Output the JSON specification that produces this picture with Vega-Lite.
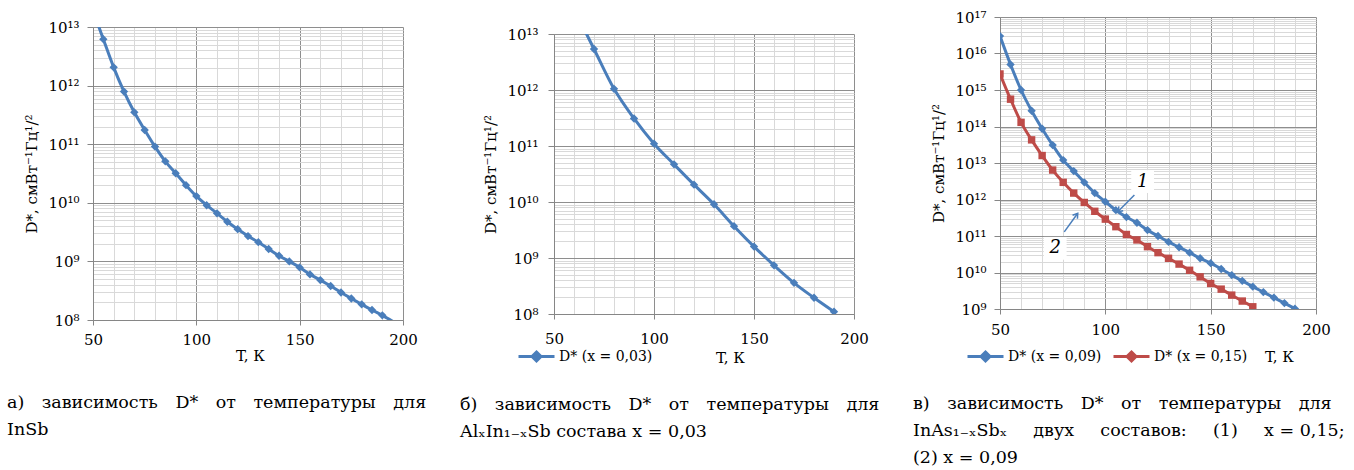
{
  "$schema": "https://vega.github.io/schema/vega-lite/v6.json",
  "background": "white",
  "padding": {"left": 7, "top": 0, "right": 0, "bottom": 0},
  "spacing": 33,
  "resolve": {"scale": {"color": "independent"}, "legend": {"color": "independent"}},
  "config": {
    "view": {"stroke": null},
    "font": "DejaVu Serif",
    "axis": {
      "labelFont": "DejaVu Serif", "labelFontSize": 15, "labelColor": "#000000",
      "titleFont": "DejaVu Serif", "titleFontSize": 15, "titleFontWeight": "normal", "titleColor": "#000000",
      "domainColor": "#868686", "tickColor": "#868686", "grid": true, "gridWidth": 1,
      "labelFlush": false, "labelOverlap": false, "labelBound": false
    },
    "title": {"font": "DejaVu Serif", "fontSize": 17.5, "fontWeight": "normal", "color": "#000000", "lineHeight": 27, "anchor": "start", "frame": "group", "orient": "bottom", "align": "left"},
    "legend": {"labelFont": "DejaVu Serif", "labelFontSize": 14, "labelColor": "#000000", "orient": "none", "direction": "horizontal", "padding": 0, "columnPadding": 5, "labelOffset": 3, "symbolSize": 1296, "symbolStrokeWidth": 3, "symbolType": "M-1,0H1M0,-0.25L0.25,0L0,0.25L-0.25,0Z", "title": null}
  },
  "hconcat": [
    {
      "vconcat": [
        {"width": 10, "height": 20, "data": {"values": [{}]}, "mark": {"type": "point", "opacity": 0}},
        {
          "width": 310, "height": 293,
          "title": {"text": ["а)\u2003зависимость\u2003D*\u2003от\u2003температуры\u2003для", "InSb"], "dx": -86, "offset": 31},
          "data": {"values": [
            {"T": 50, "D": 1.9e13}, {"T": 55, "D": 6.2e12}, {"T": 60, "D": 2.05e12}, {"T": 65, "D": 7.9e11},
            {"T": 70, "D": 3.5e11}, {"T": 75, "D": 1.75e11}, {"T": 80, "D": 9.1e10}, {"T": 85, "D": 5.1e10},
            {"T": 90, "D": 3.2e10}, {"T": 95, "D": 2.0e10}, {"T": 100, "D": 1.3e10}, {"T": 105, "D": 9.1e9},
            {"T": 110, "D": 6.6e9}, {"T": 115, "D": 4.75e9}, {"T": 120, "D": 3.55e9}, {"T": 125, "D": 2.7e9},
            {"T": 130, "D": 2.13e9}, {"T": 135, "D": 1.63e9}, {"T": 140, "D": 1.25e9}, {"T": 145, "D": 1.0e9},
            {"T": 150, "D": 7.9e8}, {"T": 155, "D": 6.0e8}, {"T": 160, "D": 4.8e8}, {"T": 165, "D": 3.8e8},
            {"T": 170, "D": 2.95e8}, {"T": 175, "D": 2.33e8}, {"T": 180, "D": 1.85e8}, {"T": 185, "D": 1.48e8},
            {"T": 190, "D": 1.2e8}, {"T": 195, "D": 9.5e7}
          ]},
          "encoding": {
            "x": {"field": "T", "type": "quantitative",
              "scale": {"domain": [50, 200], "nice": false, "zero": false},
              "axis": {"title": "T, К", "values": [50,60,70,80,90,100,110,120,130,140,150,160,170,180,190,200],
                "labelExpr": "datum.value % 50 == 0 ? datum.label : ''",
                "gridColor": {"condition": {"test": "datum.value % 50 == 0", "value": "#8e8e8e"}, "value": "#d9d9d9"},
                "tickOpacity": {"condition": {"test": "datum.value % 50 == 0", "value": 1}, "value": 0},
                "tickSize": 5, "labelPadding": 7, "titleX": 157, "titleY": 35, "titleBaseline": "middle"}},
            "y": {"field": "D", "type": "quantitative",
              "scale": {"type": "log", "domain": [1e8, 1e13], "nice": false},
              "axis": {"title": "D*, смВт⁻¹Гц¹/²",
                "values": [1e8,2e8,3e8,4e8,5e8,6e8,7e8,8e8,9e8,1e9,2e9,3e9,4e9,5e9,6e9,7e9,8e9,9e9,1e10,2e10,3e10,4e10,5e10,6e10,7e10,8e10,9e10,1e11,2e11,3e11,4e11,5e11,6e11,7e11,8e11,9e11,1e12,2e12,3e12,4e12,5e12,6e12,7e12,8e12,9e12,1e13],
                "labelExpr": "abs(log(datum.value)/LN10 - round(log(datum.value)/LN10)) < 0.000001 ? '10' + (round(log(datum.value)/LN10) >= 10 ? '¹' : '') + substring('⁰¹²³⁴⁵⁶⁷⁸⁹', round(log(datum.value)/LN10) % 10, round(log(datum.value)/LN10) % 10 + 1) : ''",
                "gridColor": {"condition": {"test": "abs(log(datum.value)/LN10 - round(log(datum.value)/LN10)) < 0.000001", "value": "#8e8e8e"}, "value": "#d9d9d9"},
                "tickOpacity": {"condition": {"test": "abs(log(datum.value)/LN10 - round(log(datum.value)/LN10)) < 0.000001", "value": 1}, "value": 0},
                "tickSize": 6, "labelPadding": 8, "titlePadding": 8}}
          },
          "layer": [
            {"mark": {"type": "line", "color": "#4A7EBB", "strokeWidth": 3, "clip": true, "interpolate": "monotone"}},
            {"transform": [{"filter": "datum.T >= 55 && datum.T <= 190"}],
             "mark": {"type": "point", "shape": "diamond", "filled": true, "opacity": 1, "color": "#4A7EBB", "size": 70, "clip": true}}
          ]
        }
      ],
      "spacing": 0
    },
    {
      "vconcat": [
        {"width": 10, "height": 27, "data": {"values": [{}]}, "mark": {"type": "point", "opacity": 0}},
        {
          "width": 300, "height": 280,
          "title": {"text": ["б)\u2003зависимость\u2003D*\u2003от\u2003температуры\u2003для", "AlₓIn₁₋ₓSb состава x = 0,03"], "dx": -94, "offset": 31},
          "data": {"values": [
            {"T": 60, "D": 2.8e13, "sb": "D* (x = 0,03)"}, {"T": 70, "D": 5.4e12, "sb": "D* (x = 0,03)"},
            {"T": 80, "D": 1.05e12, "sb": "D* (x = 0,03)"}, {"T": 90, "D": 3.1e11, "sb": "D* (x = 0,03)"},
            {"T": 100, "D": 1.1e11, "sb": "D* (x = 0,03)"}, {"T": 110, "D": 4.7e10, "sb": "D* (x = 0,03)"},
            {"T": 120, "D": 2.04e10, "sb": "D* (x = 0,03)"}, {"T": 130, "D": 9.1e9, "sb": "D* (x = 0,03)"},
            {"T": 140, "D": 3.7e9, "sb": "D* (x = 0,03)"}, {"T": 150, "D": 1.6e9, "sb": "D* (x = 0,03)"},
            {"T": 160, "D": 7.4e8, "sb": "D* (x = 0,03)"}, {"T": 170, "D": 3.6e8, "sb": "D* (x = 0,03)"},
            {"T": 180, "D": 1.95e8, "sb": "D* (x = 0,03)"}, {"T": 190, "D": 1.1e8, "sb": "D* (x = 0,03)"}
          ]},
          "encoding": {
            "x": {"field": "T", "type": "quantitative",
              "scale": {"domain": [50, 200], "nice": false, "zero": false},
              "axis": {"title": "T, К", "values": [50,60,70,80,90,100,110,120,130,140,150,160,170,180,190,200],
                "labelExpr": "datum.value % 50 == 0 ? datum.label : ''",
                "gridColor": {"condition": {"test": "datum.value % 50 == 0", "value": "#8e8e8e"}, "value": "#d9d9d9"},
                "tickOpacity": {"condition": {"test": "datum.value % 50 == 0", "value": 1}, "value": 0},
                "tickSize": 5, "labelPadding": 12, "titleX": 176, "titleY": 43, "titleBaseline": "middle"}},
            "y": {"field": "D", "type": "quantitative",
              "scale": {"type": "log", "domain": [1e8, 1e13], "nice": false},
              "axis": {"title": "D*, смВт⁻¹Гц¹/²",
                "values": [1e8,2e8,3e8,4e8,5e8,6e8,7e8,8e8,9e8,1e9,2e9,3e9,4e9,5e9,6e9,7e9,8e9,9e9,1e10,2e10,3e10,4e10,5e10,6e10,7e10,8e10,9e10,1e11,2e11,3e11,4e11,5e11,6e11,7e11,8e11,9e11,1e12,2e12,3e12,4e12,5e12,6e12,7e12,8e12,9e12,1e13],
                "labelExpr": "abs(log(datum.value)/LN10 - round(log(datum.value)/LN10)) < 0.000001 ? '10' + (round(log(datum.value)/LN10) >= 10 ? '¹' : '') + substring('⁰¹²³⁴⁵⁶⁷⁸⁹', round(log(datum.value)/LN10) % 10, round(log(datum.value)/LN10) % 10 + 1) : ''",
                "gridColor": {"condition": {"test": "abs(log(datum.value)/LN10 - round(log(datum.value)/LN10)) < 0.000001", "value": "#8e8e8e"}, "value": "#d9d9d9"},
                "tickOpacity": {"condition": {"test": "abs(log(datum.value)/LN10 - round(log(datum.value)/LN10)) < 0.000001", "value": 1}, "value": 0},
                "tickSize": 6, "labelPadding": 10, "titlePadding": 8}},
            "color": {"field": "sb", "type": "nominal", "scale": {"domain": ["D* (x = 0,03)"], "range": ["#4A7EBB"]},
              "legend": {"legendX": -37, "legendY": 337}}
          },
          "layer": [
            {"mark": {"type": "line", "strokeWidth": 3, "clip": true, "interpolate": "monotone"}},
            {"transform": [{"filter": "datum.T >= 70"}],
             "mark": {"type": "point", "shape": "diamond", "filled": true, "opacity": 1, "size": 70, "clip": true}}
          ]
        }
      ],
      "spacing": 0
    },
    {
      "vconcat": [
        {"width": 10, "height": 10, "data": {"values": [{}]}, "mark": {"type": "point", "opacity": 0}},
        {
          "width": 316, "height": 292,
          "title": {"text": ["в)\u2003зависимость\u2003D*\u2003от\u2003температуры\u2003для", "InAs₁₋ₓSbₓ\u2003\u2002двух\u2003\u2002составов:\u2003\u2002(1)\u2003\u2002x = 0,15;", "(2) x = 0,09"], "dx": -87, "offset": 31},
          "encoding": {
            "x": {"field": "T", "type": "quantitative",
              "scale": {"domain": [50, 200], "nice": false, "zero": false},
              "axis": {"title": "T, К", "values": [50,60,70,80,90,100,110,120,130,140,150,160,170,180,190,200],
                "labelExpr": "datum.value % 50 == 0 ? datum.label : ''",
                "gridColor": {"condition": {"test": "datum.value % 50 == 0", "value": "#8e8e8e"}, "value": "#d9d9d9"},
                "tickOpacity": {"condition": {"test": "datum.value % 50 == 0", "value": 1}, "value": 0},
                "tickSize": 5, "labelPadding": 8, "titleX": 279, "titleY": 47, "titleBaseline": "middle"}},
            "y": {"field": "D", "type": "quantitative",
              "scale": {"type": "log", "domain": [1e9, 1e17], "nice": false},
              "axis": {"title": "D*, смВт⁻¹Гц¹/²",
                "values": [1e9,2e9,3e9,4e9,5e9,6e9,7e9,8e9,9e9,1e10,2e10,3e10,4e10,5e10,6e10,7e10,8e10,9e10,1e11,2e11,3e11,4e11,5e11,6e11,7e11,8e11,9e11,1e12,2e12,3e12,4e12,5e12,6e12,7e12,8e12,9e12,1e13,2e13,3e13,4e13,5e13,6e13,7e13,8e13,9e13,1e14,2e14,3e14,4e14,5e14,6e14,7e14,8e14,9e14,1e15,2e15,3e15,4e15,5e15,6e15,7e15,8e15,9e15,1e16,2e16,3e16,4e16,5e16,6e16,7e16,8e16,9e16,1e17],
                "labelExpr": "abs(log(datum.value)/LN10 - round(log(datum.value)/LN10)) < 0.000001 ? '10' + (round(log(datum.value)/LN10) >= 10 ? '¹' : '') + substring('⁰¹²³⁴⁵⁶⁷⁸⁹', round(log(datum.value)/LN10) % 10, round(log(datum.value)/LN10) % 10 + 1) : ''",
                "gridColor": {"condition": {"test": "abs(log(datum.value)/LN10 - round(log(datum.value)/LN10)) < 0.000001", "value": "#8e8e8e"}, "value": "#d9d9d9"},
                "tickOpacity": {"condition": {"test": "abs(log(datum.value)/LN10 - round(log(datum.value)/LN10)) < 0.000001", "value": 1}, "value": 0},
                "tickSize": 6, "labelPadding": 8, "titlePadding": 8}}
          },
          "layer": [
            {
              "data": {"values": [
                {"T": 50, "D": 3.0e16, "sc": "D* (x = 0,09)"}, {"T": 55, "D": 5.0e15, "sc": "D* (x = 0,09)"},
                {"T": 60, "D": 1.0e15, "sc": "D* (x = 0,09)"}, {"T": 65, "D": 2.7e14, "sc": "D* (x = 0,09)"},
                {"T": 70, "D": 8.7e13, "sc": "D* (x = 0,09)"}, {"T": 75, "D": 3.1e13, "sc": "D* (x = 0,09)"},
                {"T": 80, "D": 1.2e13, "sc": "D* (x = 0,09)"}, {"T": 85, "D": 6.0e12, "sc": "D* (x = 0,09)"},
                {"T": 90, "D": 2.95e12, "sc": "D* (x = 0,09)"}, {"T": 95, "D": 1.5e12, "sc": "D* (x = 0,09)"},
                {"T": 100, "D": 8.7e11, "sc": "D* (x = 0,09)"}, {"T": 105, "D": 5.1e11, "sc": "D* (x = 0,09)"},
                {"T": 110, "D": 3.3e11, "sc": "D* (x = 0,09)"}, {"T": 115, "D": 2.3e11, "sc": "D* (x = 0,09)"},
                {"T": 120, "D": 1.45e11, "sc": "D* (x = 0,09)"}, {"T": 125, "D": 1.0e11, "sc": "D* (x = 0,09)"},
                {"T": 130, "D": 6.9e10, "sc": "D* (x = 0,09)"}, {"T": 135, "D": 4.9e10, "sc": "D* (x = 0,09)"},
                {"T": 140, "D": 3.5e10, "sc": "D* (x = 0,09)"}, {"T": 145, "D": 2.45e10, "sc": "D* (x = 0,09)"},
                {"T": 150, "D": 1.8e10, "sc": "D* (x = 0,09)"}, {"T": 155, "D": 1.25e10, "sc": "D* (x = 0,09)"},
                {"T": 160, "D": 8.5e9, "sc": "D* (x = 0,09)"}, {"T": 165, "D": 5.9e9, "sc": "D* (x = 0,09)"},
                {"T": 170, "D": 4.1e9, "sc": "D* (x = 0,09)"}, {"T": 175, "D": 2.9e9, "sc": "D* (x = 0,09)"},
                {"T": 180, "D": 2.05e9, "sc": "D* (x = 0,09)"}, {"T": 185, "D": 1.45e9, "sc": "D* (x = 0,09)"},
                {"T": 190, "D": 1.02e9, "sc": "D* (x = 0,09)"},
                {"T": 50, "D": 2.75e15, "sc": "D* (x = 0,15)"}, {"T": 55, "D": 5.6e14, "sc": "D* (x = 0,15)"},
                {"T": 60, "D": 1.3e14, "sc": "D* (x = 0,15)"}, {"T": 65, "D": 4.3e13, "sc": "D* (x = 0,15)"},
                {"T": 70, "D": 1.6e13, "sc": "D* (x = 0,15)"}, {"T": 75, "D": 6.4e12, "sc": "D* (x = 0,15)"},
                {"T": 80, "D": 2.95e12, "sc": "D* (x = 0,15)"}, {"T": 85, "D": 1.5e12, "sc": "D* (x = 0,15)"},
                {"T": 90, "D": 8.3e11, "sc": "D* (x = 0,15)"}, {"T": 95, "D": 4.75e11, "sc": "D* (x = 0,15)"},
                {"T": 100, "D": 2.9e11, "sc": "D* (x = 0,15)"}, {"T": 105, "D": 1.8e11, "sc": "D* (x = 0,15)"},
                {"T": 110, "D": 1.1e11, "sc": "D* (x = 0,15)"}, {"T": 115, "D": 7.8e10, "sc": "D* (x = 0,15)"},
                {"T": 120, "D": 5.1e10, "sc": "D* (x = 0,15)"}, {"T": 125, "D": 3.5e10, "sc": "D* (x = 0,15)"},
                {"T": 130, "D": 2.45e10, "sc": "D* (x = 0,15)"}, {"T": 135, "D": 1.7e10, "sc": "D* (x = 0,15)"},
                {"T": 140, "D": 1.15e10, "sc": "D* (x = 0,15)"}, {"T": 145, "D": 7.6e9, "sc": "D* (x = 0,15)"},
                {"T": 150, "D": 5.0e9, "sc": "D* (x = 0,15)"}, {"T": 155, "D": 3.5e9, "sc": "D* (x = 0,15)"},
                {"T": 160, "D": 2.4e9, "sc": "D* (x = 0,15)"}, {"T": 165, "D": 1.65e9, "sc": "D* (x = 0,15)"},
                {"T": 170, "D": 1.15e9, "sc": "D* (x = 0,15)"}
              ]},
              "encoding": {
                "color": {"field": "sc", "type": "nominal",
                  "scale": {"domain": ["D* (x = 0,09)", "D* (x = 0,15)"], "range": ["#4A7EBB", "#BE4B48"]},
                  "legend": {"legendX": -34, "legendY": 337}}
              },
              "layer": [
                {"mark": {"type": "line", "strokeWidth": 3, "clip": true, "interpolate": "monotone"}},
                {"transform": [{"filter": "datum.sc == 'D* (x = 0,09)'"}],
                 "mark": {"type": "point", "shape": "diamond", "filled": true, "opacity": 1, "size": 70, "clip": true}},
                {"transform": [{"filter": "datum.sc == 'D* (x = 0,15)'"}],
                 "mark": {"type": "point", "shape": "square", "filled": true, "opacity": 1, "size": 55, "clip": true}}
              ]
            },
            {
              "data": {"values": [{"T": 113.8, "D": 1.33e12, "T2": 105.9, "D2": 4.6e11}, {"T": 80.5, "D": 1.3e11, "T2": 86.9, "D2": 4.2e11}]},
              "mark": {"type": "rule", "color": "#4A7EBB", "strokeWidth": 1.5},
              "encoding": {"x2": {"field": "T2"}, "y2": {"field": "D2"}}
            },
            {
              "data": {"values": [{"T": 105.9, "D": 4.6e11}]},
              "mark": {"type": "point", "shape": "M-0.55,0.85L0,0L0.55,0.85", "filled": false, "opacity": 1, "color": "#4A7EBB", "strokeWidth": 1.5, "size": 120, "angle": 225},
              "encoding": {}
            },
            {
              "data": {"values": [{"T": 86.9, "D": 4.2e11}]},
              "mark": {"type": "point", "shape": "M-0.55,0.85L0,0L0.55,0.85", "filled": false, "opacity": 1, "color": "#4A7EBB", "strokeWidth": 1.5, "size": 120, "angle": 36},
              "encoding": {}
            },
            {
              "data": {"values": [{"T": 117.7, "D": 3.1e12, "lab": "1"}, {"T": 76.2, "D": 4.6e10, "lab": "2"}]},
              "layer": [
                {"mark": {"type": "point", "shape": "square", "filled": true, "opacity": 1, "color": "white", "size": 520}, "encoding": {}},
                {"mark": {"type": "text", "font": "DejaVu Serif", "fontStyle": "italic", "fontSize": 18, "color": "#000000"}, "encoding": {"text": {"field": "lab"}}}
              ]
            }
          ]
        }
      ],
      "spacing": 0
    }
  ]
}
